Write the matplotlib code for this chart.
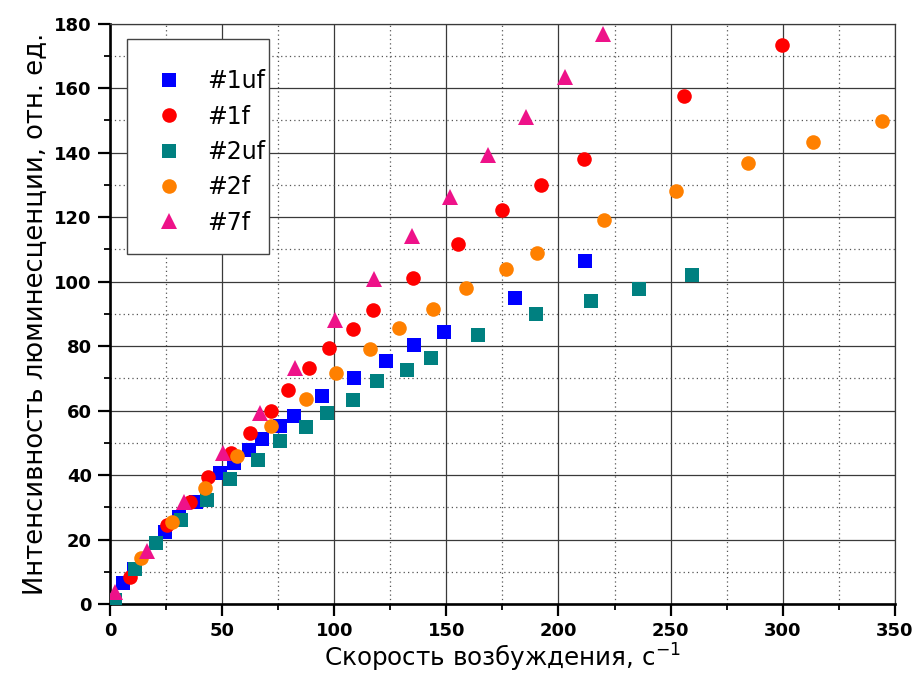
import matplotlib
matplotlib.use("Agg")
import matplotlib.pyplot as plt
import numpy as np
from matplotlib.patches import Rectangle
from matplotlib.ticker import MultipleLocator

# data
x_1uf = [5.8, 10.7, 24.5, 30.7, 38.2, 49.3, 55.2, 61.9, 67.9, 76.0, 82.0, 94.6,
         108.7, 123.1, 135.6, 149.0, 180.4, 212.0]
y_1uf = [6.4, 10.8, 22.2, 27.1, 31.8, 40.6, 43.7, 47.9, 51.2, 55.1, 58.4, 64.4,
         70.2, 75.3, 80.3, 84.5, 94.8, 106.5]

x_1f = [1.0, 8.8, 25.6, 35.6, 43.7, 53.8, 62.4, 71.6, 79.3, 88.6, 97.6, 108.4,
        117.1, 135.3, 155.0, 174.8, 192.3, 211.3, 256.1, 299.6]
y_1f = [0.5, 8.5, 24.6, 31.8, 39.4, 46.8, 53.1, 59.8, 66.3, 73.3, 79.5, 85.2,
        91.2, 101.2, 111.8, 122.2, 130.0, 138.1, 157.6, 173.5]

x_2uf = [2.1, 11.0, 20.7, 31.5, 43.1, 53.5, 65.9, 75.7, 87.6, 96.8, 108.2, 119.1,
         132.6, 143.2, 163.9, 189.8, 214.3, 235.9, 259.3]
y_2uf = [1.2, 10.8, 18.9, 26.1, 32.3, 38.7, 44.8, 50.5, 54.8, 59.3, 63.4, 69.1,
         72.5, 76.2, 83.3, 89.8, 93.9, 97.6, 102.0]

x_2f = [14.0, 27.8, 42.2, 56.7, 71.6, 87.6, 101.0, 116.1, 128.7, 144.0, 158.7,
        176.4, 190.4, 220.2, 252.4, 284.5, 313.4, 344.2]
y_2f = [14.2, 25.6, 36.0, 45.8, 55.1, 63.7, 71.5, 79.0, 85.5, 91.6, 97.9,
        104.0, 109.0, 119.1, 128.2, 136.8, 143.4, 149.9]

x_7f = [2.1, 16.6, 33.0, 50.5, 66.8, 82.7, 100.5, 117.6, 134.7, 151.5, 168.4,
        185.5, 202.7, 220.0]
y_7f = [3.8, 16.5, 31.8, 46.8, 59.3, 73.3, 88.1, 100.9, 114.2, 126.1, 139.3,
        151.0, 163.4, 176.9]

labels = ["#1uf", "#1f", "#2uf", "#2f", "#7f"]
colors = ["#0000FF", "#FF0000", "#008080", "#FF8000", "#EE1289"]
markers = ["s", "o", "s", "o", "^"]
sizes = [9.5, 10.5, 9.5, 10.5, 11]

xs = [x_1uf, x_1f, x_2uf, x_2f, x_7f]
ys = [y_1uf, y_1f, y_2uf, y_2f, y_7f]

fig = plt.figure(figsize=(9.16, 6.88), dpi=100)
ax = fig.add_axes([0.12, 0.122, 0.857, 0.8437])

for x, y, lab, c, m, s in zip(xs, ys, labels, colors, markers, sizes):
    ax.plot(x, y, linestyle="none", marker=m, markersize=s, color=c,
            markeredgewidth=0, label=lab, zorder=5)

ax.set_xlim(0, 350)
ax.set_ylim(0, 180)
ax.xaxis.set_major_locator(MultipleLocator(50))
ax.xaxis.set_minor_locator(MultipleLocator(25))
ax.yaxis.set_major_locator(MultipleLocator(20))
ax.yaxis.set_minor_locator(MultipleLocator(10))

ax.grid(which="major", color="#3a3a3a", linestyle="-", linewidth=0.9, zorder=1)
ax.grid(which="minor", color="#555555", linestyle=(0, (1, 2.5)), linewidth=0.9, zorder=1)
ax.set_axisbelow(True)

ax.tick_params(which="major", direction="out", length=8.5, width=1.6, pad=4.5)
ax.tick_params(which="minor", direction="out", length=4.5, width=1.3)
for lbl in ax.get_xticklabels() + ax.get_yticklabels():
    lbl.set_fontweight("bold")
    lbl.set_fontsize(13)

for side in ["left", "bottom"]:
    ax.spines[side].set_linewidth(1.9)
for side in ["top", "right"]:
    ax.spines[side].set_linewidth(0.9)
    ax.spines[side].set_color("#3a3a3a")

ax.set_xlabel("Скорость возбуждения, с$^{-1}$", fontsize=17.7, labelpad=1.5)
ax.set_ylabel("Интенсивность люминесценции, отн. ед.", fontsize=18.6, labelpad=4)

# legend box drawn by hand (Origin style)
ax.add_patch(Rectangle((0.0216, 0.603), 0.1807, 0.371, transform=ax.transAxes,
                       facecolor="white", edgecolor="#444444", linewidth=1.0,
                       zorder=6))
leg = ax.legend(loc="upper left", bbox_to_anchor=(0.0216, 0.974), frameon=False,
                fontsize=17, borderpad=1.3, handlelength=1.0, handletextpad=1.1,
                labelspacing=0.48, numpoints=1, borderaxespad=0)
leg.set_zorder(7)

fig.savefig("out.png", dpi=100)
